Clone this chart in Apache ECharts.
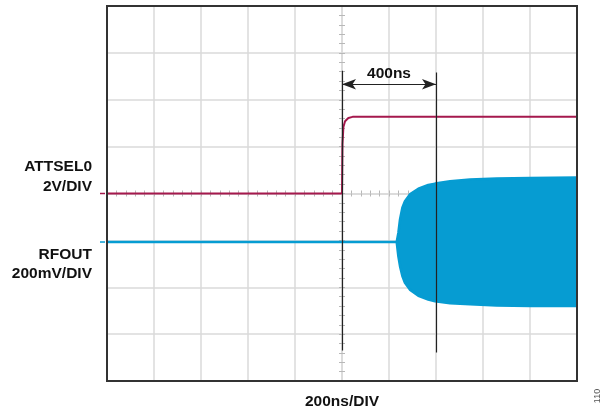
<!DOCTYPE html>
<html>
<head>
<meta charset="utf-8">
<script src="https://cdn.jsdelivr.net/npm/echarts@6/dist/echarts.min.js"></script>
<style>
html,body{margin:0;padding:0;background:#fff;}
#chart{width:613px;height:414px;}
</style>
</head>
<body>
<div id="chart"></div>
<script>
// ---- data (time in ns relative to trigger, amplitude in divisions) ----
const timeRange = [-1000, 1000];        // 200 ns/div, 10 divisions
const divRange = [-4, 4];               // 8 vertical divisions

const attselTime  = [-1000, 0, 2, 6, 13, 27, 45, 1000];
const attselLevel = [0, 0, 1.05, 1.42, 1.54, 1.61, 1.635, 1.64];

const rfTime  = [-1000, 233, 240, 247, 257, 268, 289, 325, 367, 396, 460, 545, 658, 800, 1000];
const rfUpper = [-1.035, -1.035, -0.84, -0.555, -0.305, -0.165, -0.02, 0.10, 0.18, 0.21, 0.26, 0.30, 0.32, 0.33, 0.34];
const rfLower = [-1.035, -1.035, -1.34, -1.55, -1.76, -1.905, -2.05, -2.18, -2.26, -2.30, -2.34, -2.36, -2.39, -2.40, -2.40];

const cursorTime   = [0, 400];
const cursorTop    = [2.62, 2.58];
const cursorBottom = [-3.35, -3.39];
const arrowLevel   = 2.33;
const arrowLabel   = '400ns';

const channelLabels = [['ATTSEL0', '2V/DIV'], ['RFOUT', '200mV/DIV']];
const channelBase = [0, -1.035];
const xAxisTitle = '200ns/DIV';
const figureId = '110';

// ---- styling ----
const MAGENTA = '#a5194d';
const BLUE = '#069cd2';
const GRIDC = '#dadada';
const FRAME = '#333333';
const FONT = '"Liberation Sans", Arial, sans-serif';

const chart = echarts.init(document.getElementById('chart'), null, {renderer: 'canvas'});
const G = {left: 107, top: 6, width: 470, height: 375};

function gridX() {
  return {
    type: 'value', gridIndex: 0, position: 'bottom', min: timeRange[0], max: timeRange[1], interval: 200,
    axisLine: {show: false}, axisTick: {show: false}, axisLabel: {show: false},
    splitLine: {show: true, lineStyle: {color: GRIDC, width: 1.5}}
  };
}
function gridY() {
  return {
    type: 'value', gridIndex: 0, position: 'left', min: divRange[0], max: divRange[1], interval: 1,
    axisLine: {show: false}, axisTick: {show: false}, axisLabel: {show: false},
    splitLine: {show: true, lineStyle: {color: GRIDC, width: 1.5}}
  };
}
function centerX(pos, showLine) {
  return {
    type: 'value', gridIndex: 1, position: pos, min: timeRange[0], max: timeRange[1], interval: 200,
    axisLine: {show: showLine, onZero: true, lineStyle: {color: GRIDC, width: 1.5}},
    axisTick: {show: true, length: 3, lineStyle: {color: '#b8b8b8'}},
    minorTick: {show: true, splitNumber: 5, length: 3, lineStyle: {color: '#b8b8b8'}},
    axisLabel: {show: false}, splitLine: {show: false}
  };
}
function centerY(pos, showLine) {
  return {
    type: 'value', gridIndex: 1, position: pos, min: divRange[0], max: divRange[1], interval: 1,
    axisLine: {show: showLine, onZero: true, lineStyle: {color: GRIDC, width: 1.5}},
    axisTick: {show: true, length: 3, lineStyle: {color: '#b8b8b8'}},
    minorTick: {show: true, splitNumber: 5, length: 3, lineStyle: {color: '#b8b8b8'}},
    axisLabel: {show: false}, splitLine: {show: false}
  };
}

const pairs = (xs, ys) => xs.map((x, i) => [x, ys[i]]);
const cursorLines = cursorTime.map((t, i) => [{coord: [t, cursorTop[i]]}, {coord: [t, cursorBottom[i]]}]);

// RF envelope drawn as a filled polygon through the axis scales
function renderEnvelope(params, api) {
  if (params.dataIndex !== 0) return null;
  const pts = [];
  for (let i = 0; i < rfTime.length; i++) pts.push(api.coord([rfTime[i], rfUpper[i]]));
  for (let i = rfTime.length - 1; i >= 0; i--) pts.push(api.coord([rfTime[i], rfLower[i]]));
  return {
    type: 'polygon',
    shape: {points: pts},
    style: {fill: BLUE, stroke: BLUE, lineWidth: 2.6, lineJoin: 'round'}
  };
}

const textEls = [
  {type: 'text', x: 92, y: 167, style: {text: channelLabels[0][0], align: 'right', verticalAlign: 'middle', font: 'bold 15.5px ' + FONT, fill: '#111'}},
  {type: 'text', x: 92, y: 187, style: {text: channelLabels[0][1], align: 'right', verticalAlign: 'middle', font: 'bold 15.5px ' + FONT, fill: '#111'}},
  {type: 'text', x: 92, y: 255, style: {text: channelLabels[1][0], align: 'right', verticalAlign: 'middle', font: 'bold 15.5px ' + FONT, fill: '#111'}},
  {type: 'text', x: 92, y: 274, style: {text: channelLabels[1][1], align: 'right', verticalAlign: 'middle', font: 'bold 15.5px ' + FONT, fill: '#111'}},
  {type: 'text', x: 342, y: 402, style: {text: xAxisTitle, align: 'center', verticalAlign: 'middle', font: 'bold 15.5px ' + FONT, fill: '#111'}},
  {type: 'text', x: 598, y: 396, rotation: Math.PI / 2, style: {text: figureId, align: 'center', verticalAlign: 'middle', font: '9px ' + FONT, fill: '#555'}}
];

chart.setOption({
  animation: false,
  backgroundColor: '#ffffff',
  grid: [
    Object.assign({}, G, {containLabel: false}),
    Object.assign({}, G, {containLabel: false})
  ],
  xAxis: [gridX(), centerX('bottom', true), centerX('top', false)],
  yAxis: [gridY(), centerY('left', true), centerY('right', false)],
  series: [
    {
      type: 'custom', name: 'RFOUT', xAxisIndex: 0, yAxisIndex: 0, z: 3, clip: true,
      data: rfTime.map((t, i) => [t, rfUpper[i], rfLower[i]]),
      encode: {x: 0, y: [1, 2]},
      renderItem: renderEnvelope
    },
    {
      type: 'line', name: 'ATTSEL0', xAxisIndex: 0, yAxisIndex: 0,
      showSymbol: false, symbol: 'none', z: 4,
      data: pairs(attselTime, attselLevel),
      lineStyle: {color: MAGENTA, width: 2},
      markLine: {
        silent: true, z: 10, animation: false,
        symbol: ['none', 'none'],
        lineStyle: {color: '#222', width: 1.2, type: 'solid'},
        label: {show: false},
        data: cursorLines.concat([[
          {coord: [cursorTime[0], arrowLevel], symbol: 'arrow', symbolSize: [8, 14]},
          {coord: [cursorTime[1], arrowLevel], symbol: 'arrow', symbolSize: [8, 14],
           label: {show: true, position: 'middle', formatter: arrowLabel, color: '#111',
                   fontFamily: FONT, fontWeight: 'bold', fontSize: 15.5, distance: 3}}
        ]])
      }
    }
  ],
  graphic: textEls
});

// frame and channel level indicators, placed through the axis scales
const p0 = chart.convertToPixel({xAxisIndex: 0, yAxisIndex: 0}, [timeRange[0], divRange[1]]);
const p1 = chart.convertToPixel({xAxisIndex: 0, yAxisIndex: 0}, [timeRange[1], divRange[0]]);
const frameEl = {type: 'rect', z: 100, shape: {x: p0[0], y: p0[1], width: p1[0] - p0[0], height: p1[1] - p0[1]},
                 style: {fill: null, stroke: FRAME, lineWidth: 2}};
const colors = [MAGENTA, BLUE];
const marks = channelBase.map((v, i) => {
  const p = chart.convertToPixel({xAxisIndex: 0, yAxisIndex: 0}, [timeRange[0], v]);
  return {type: 'line', shape: {x1: p[0] - 7, y1: p[1], x2: p[0] - 2, y2: p[1]}, style: {stroke: colors[i], lineWidth: 1.5}};
});
chart.setOption({graphic: textEls.concat([frameEl], marks)});
</script>
</body>
</html>
